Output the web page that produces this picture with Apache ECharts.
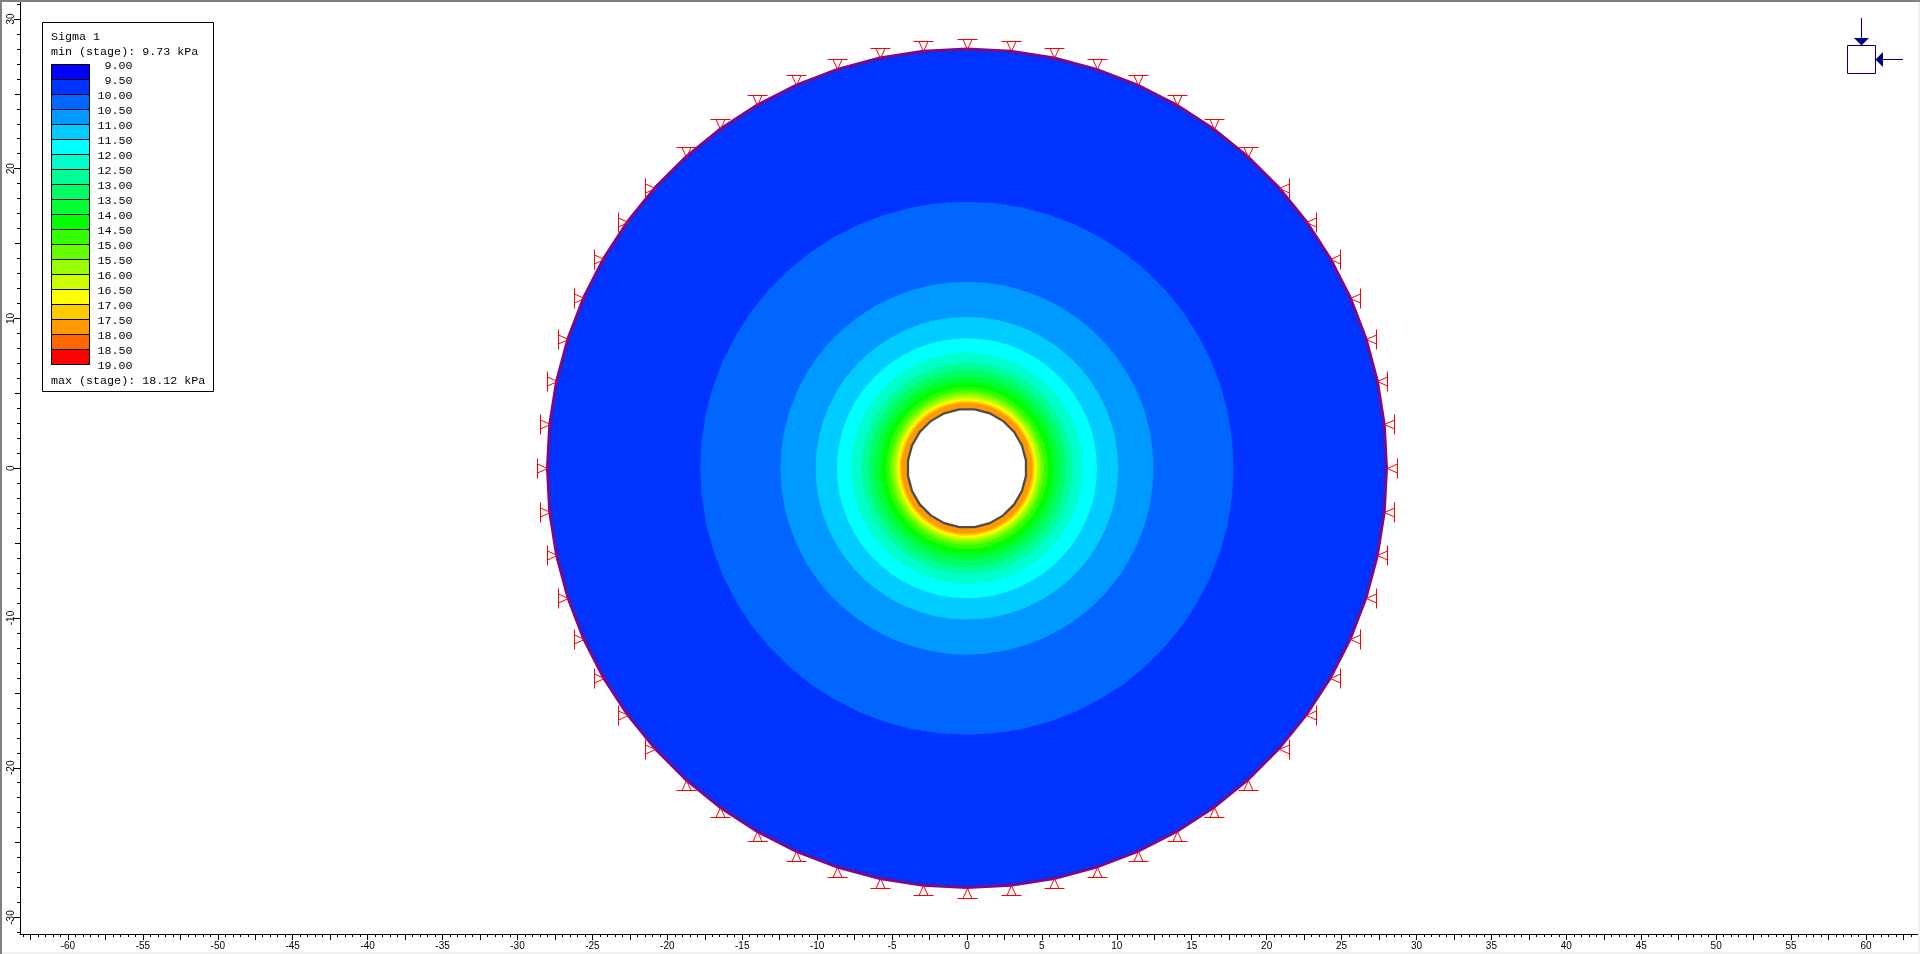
<!DOCTYPE html>
<html>
<head>
<meta charset="utf-8">
<style>html,body{margin:0;padding:0;background:#fff;overflow:hidden}#c{width:1920px;height:954px}</style>
<script src="https://cdn.jsdelivr.net/npm/echarts@6/dist/echarts.min.js"></script>
</head>
<body>
<div id="c"></div>
<script>
// ---- data ----
const legendLabels = ['9.00','9.50','10.00','10.50','11.00','11.50','12.00','12.50','13.00','13.50','14.00','14.50','15.00','15.50','16.00','16.50','17.00','17.50','18.00','18.50','19.00'];
const legendColors = ['#0000ff','#0033ff','#0066ff','#0099ff','#00ccff','#00ffff','#00ffcc','#00ff99','#00ff66','#00ff33','#00ff00','#33ff00','#66ff00','#99ff00','#ccff00','#ffff00','#ffcc00','#ff9900','#ff6600','#ff0000'];
// outer radius (m) of each contour band, outermost first; colour index into legendColors
const bandRadii = [28,17.8,12.45,10.1,8.68,7.72,7.05,6.58,6.13,5.73,5.4,5.13,4.95,4.78,4.62,4.51,4.38];
const bandColorIndex = [1,2,3,4,5,6,7,8,9,10,11,12,13,14,15,16,17];
const holeRadius = 3.97;
const outerRadius = 28;
const supportAngles = [0,6,12,18,24,30,36,42,48,54,60,66,72,78,84,90,96,102,108,114,120,126,132,138,144,150,156,162,168,174,180,186,192,198,204,210,216,222,228,234,240,246,252,258,264,270,276,282,288,294,300,306,312,318,324,330,336,342,348,354];
const xLabels = [-60,-55,-50,-45,-40,-35,-30,-25,-20,-15,-10,-5,0,5,10,15,20,25,30,35,40,45,50,55,60];
const yLabels = [-30,-20,-10,0,10,20,30];
const titleText = 'Sigma 1';
const minText = 'min (stage): 9.73 kPa';
const maxText = 'max (stage): 18.12 kPa';

// ---- tick helpers ----
function seq(a, b, s) { const r = []; for (let i = 0; a + i * s <= b + 1e-9; i++) r.push(a + i * s); return r; }
const xMedium = seq(-62.5, 62.5, 5);
const xMinor = seq(-63, 63, 0.5);
const yMedium = seq(-25, 25, 10);
const yMinor = seq(-31, 31, 1);

const X_MIN = -63.2, X_MAX = 63.47, Y_MIN = -31.1, Y_MAX = 31.13;
const INK = '#000';
const MONO = '"Liberation Mono", monospace';
const SANS = '"Liberation Sans", Arial, sans-serif';

function xAxisOf(ticks, len, labels) {
  return {
    type: 'value', position: 'bottom', min: X_MIN, max: X_MAX, gridIndex: 0,
    axisLine: { show: !!labels, onZero: false, lineStyle: { color: INK, width: 1 } },
    axisTick: { show: true, customValues: ticks, length: len, lineStyle: { color: INK, width: 1 } },
    axisLabel: labels ? { show: true, customValues: labels, color: INK, fontFamily: SANS, fontSize: 10, margin: 7, hideOverlap: false } : { show: false },
    splitLine: { show: false }, minorTick: { show: false }
  };
}
function yAxisOf(ticks, len, labels) {
  return {
    type: 'value', position: 'left', min: Y_MIN, max: Y_MAX, gridIndex: 0,
    axisLine: { show: !!labels, onZero: false, lineStyle: { color: INK, width: 1 } },
    axisTick: { show: true, customValues: ticks, length: len, lineStyle: { color: INK, width: 1 } },
    axisLabel: labels ? { show: true, customValues: labels, rotate: 90, color: INK, fontFamily: SANS, fontSize: 10, margin: 4, hideOverlap: false } : { show: false },
    splitLine: { show: false }, minorTick: { show: false }
  };
}

function polygonPoints(api, r, sides, offsetDeg) {
  const pts = [];
  for (let i = 0; i < sides; i++) {
    const a = (offsetDeg + i * 360 / sides) * Math.PI / 180;
    pts.push(api.coord([r * Math.cos(a), r * Math.sin(a)]));
  }
  return pts;
}

const bandData = bandRadii.map((r, i) => [r, bandColorIndex[i]]);

const series = [
  { // contour bands
    type: 'custom', coordinateSystem: 'cartesian2d', xAxisIndex: 0, yAxisIndex: 0, clip: false, silent: true, z: 2,
    data: bandData,
    renderItem(params, api) {
      const r = api.value(0);
      return { type: 'polygon', shape: { points: polygonPoints(api, r, 60, 0) },
        style: { fill: legendColors[api.value(1)], stroke: null } };
    }
  },
  { // hole
    type: 'custom', coordinateSystem: 'cartesian2d', xAxisIndex: 0, yAxisIndex: 0, clip: false, silent: true, z: 3,
    data: [[holeRadius]],
    renderItem(params, api) {
      return { type: 'polygon', shape: { points: polygonPoints(api, api.value(0), 24, 7.5) },
        style: { fill: '#fff', stroke: '#4d4d4d', lineWidth: 2.3 } };
    }
  },
  { // outer boundary
    type: 'custom', coordinateSystem: 'cartesian2d', xAxisIndex: 0, yAxisIndex: 0, clip: false, silent: true, z: 4,
    data: [[outerRadius]],
    renderItem(params, api) {
      return { type: 'polygon', shape: { points: polygonPoints(api, api.value(0), 60, 0) },
        style: { fill: 'none', stroke: '#7a0a8c', lineWidth: 3 } };
    }
  },
  { // boundary supports
    type: 'custom', coordinateSystem: 'cartesian2d', xAxisIndex: 0, yAxisIndex: 0, clip: false, silent: true, z: 5,
    data: supportAngles.map(a => [outerRadius * Math.cos(a * Math.PI / 180), outerRadius * Math.sin(a * Math.PI / 180), a]),
    renderItem(params, api) {
      const p = api.coord([api.value(0), api.value(1)]);
      const a = api.value(2) * Math.PI / 180;
      const c = Math.cos(a), s = Math.sin(a);
      let dx = 0, dy = 0;
      if (Math.abs(c) > Math.abs(s)) dx = c > 0 ? 1 : -1; else dy = s > 0 ? -1 : 1;
      const px = Math.round(p[0]) + 0.5, py = Math.round(p[1]) + 0.5;
      const bx = px + dx * 10, by = py + dy * 10;
      const nx = dy, ny = dx;
      const st = { stroke: '#ff0000', lineWidth: 1, fill: 'none' };
      return { type: 'group', children: [
        { type: 'polyline', shape: { points: [[bx - nx * 10, by - ny * 10], [bx + nx * 10, by + ny * 10]] }, style: st },
        { type: 'polyline', shape: { points: [[bx - nx * 4.5, by - ny * 4.5], [px, py], [bx + nx * 4.5, by + ny * 4.5]] }, style: st }
      ] };
    }
  }
];

// ---- legend and stress-direction icon ----
const LX = 42.5, LY = 22.5, LW = 171, LH = 369, SX = 51.5, SW = 38, SY = 64.5, SH = 15;
const g = [];
g.push({ type: 'rect', shape: { x: LX, y: LY, width: LW, height: LH }, style: { fill: '#fff', stroke: '#000', lineWidth: 1 }, z: 10 });
function txt(t, x, y, align) {
  g.push({ type: 'text', x, y, z: 11, style: { text: t, fill: '#000', font: '11.7px ' + MONO, textAlign: align || 'left', textVerticalAlign: 'middle' } });
}
txt(titleText, 51, 37);
txt(minText, 51, 52);
legendColors.forEach((col, i) => {
  g.push({ type: 'rect', shape: { x: SX, y: SY + i * SH, width: SW, height: SH }, style: { fill: col, stroke: '#000', lineWidth: 1 }, z: 11 });
});
legendLabels.forEach((t, i) => txt(t, 132.5, 66 + i * SH, 'right'));
txt(maxText, 51, 381);

const NAVY = '#000080';
g.push({ type: 'rect', shape: { x: 1847.5, y: 45.5, width: 28, height: 28 }, style: { fill: '#fff', stroke: NAVY, lineWidth: 1 }, z: 10 });
g.push({ type: 'polyline', shape: { points: [[1861.5, 18], [1861.5, 39]] }, style: { stroke: NAVY, lineWidth: 1, fill: 'none' }, z: 10 });
g.push({ type: 'polygon', shape: { points: [[1854, 38], [1869, 38], [1861.5, 45.5]] }, style: { fill: NAVY }, z: 10 });
g.push({ type: 'polyline', shape: { points: [[1903, 59.5], [1882, 59.5]] }, style: { stroke: NAVY, lineWidth: 1, fill: 'none' }, z: 10 });
g.push({ type: 'polygon', shape: { points: [[1883, 52], [1883, 67], [1875.5, 59.5]] }, style: { fill: NAVY }, z: 10 });

// window frame
g.push({ type: 'rect', shape: { x: 0, y: 0, width: 1920, height: 2 }, style: { fill: '#808080' }, z: 20 });
g.push({ type: 'rect', shape: { x: 0, y: 0, width: 2, height: 954 }, style: { fill: '#808080' }, z: 20 });
g.push({ type: 'rect', shape: { x: 1918, y: 2, width: 2, height: 952 }, style: { fill: '#f0f0f0' }, z: 20 });
g.push({ type: 'rect', shape: { x: 2, y: 952, width: 1918, height: 2 }, style: { fill: '#f0f0f0' }, z: 20 });

const chart = echarts.init(document.getElementById('c'), null, { renderer: 'canvas', width: 1920, height: 954 });
chart.setOption({
  animation: false,
  backgroundColor: '#fff',
  tooltip: { show: false },
  grid: { left: 20, right: 2, top: 2, bottom: 20, containLabel: false },
  xAxis: [xAxisOf(xLabels, 6, xLabels), xAxisOf(xMedium, 6), xAxisOf(xMinor, 3)],
  yAxis: [yAxisOf(yLabels, 6, yLabels), yAxisOf(yMedium, 5), yAxisOf(yMinor, 3)],
  series,
  graphic: { elements: g }
});
</script>
</body>
</html>
